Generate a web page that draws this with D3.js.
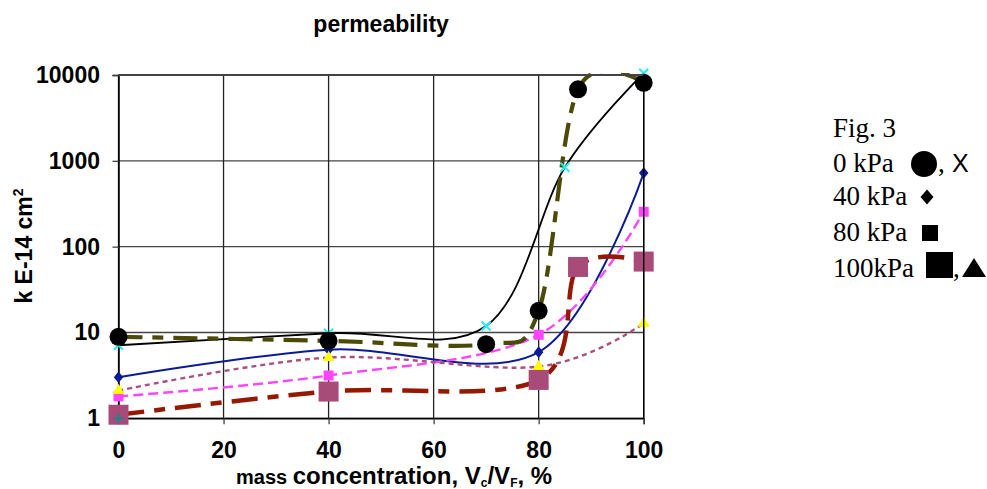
<!DOCTYPE html>
<html>
<head>
<meta charset="utf-8">
<script src="https://cdn.jsdelivr.net/npm/d3@7"></script>
<style>
  body { margin: 0; background: #fff; }
  svg { display: block; }
</style>
</head>
<body>
<div id="chart"></div>
<script>
// valores (k em E-14 cm2)
const xTicks = [0, 20, 40, 60, 80, 100];
const yTicks = [1, 10, 100, 1000, 10000];

// 0 kPa - círculos (linha tracejada oliva)
const xCircle = [0, 40, 70, 80, 87.5, 100];
const kCircle = [8.9, 8.0, 7.3, 17.9, 6800, 8100];
// 0 kPa - X (linha preta)
const xCross = [0, 40, 70, 85, 100];
const kCross = [7.1, 9.8, 11.9, 840, 10500];
// 40 kPa - losangos
const x40 = [0, 40, 80, 100];
const k40 = [3.0, 6.3, 5.9, 720];
// 80 kPa - quadrados pequenos
const x80 = [0, 40, 80, 100];
const k80 = [1.8, 3.15, 9.4, 255];
// 100 kPa - quadrados grandes
const xBig = [0, 40, 80, 87.5, 100];
const kBig = [1.1, 2.05, 2.8, 58, 67];
// 100 kPa - triângulos (linha pontilhada)
const xTri = [0, 40, 80, 100];
const kTri = [2.1, 5.1, 4.0, 12.8];
// ponto extra (+)
const xPlus = [0];
const kPlus = [1.0];

const W = 987, H = 489;
const margin = { top: 75, right: 343.3, bottom: 70.7, left: 118.5 };
const width = W - margin.left - margin.right;
const height = H - margin.top - margin.bottom;

const svg = d3.select("#chart").append("svg")
    .attr("width", W)
    .attr("height", H);

const g = svg.append("g")
    .attr("transform", `translate(${margin.left},${margin.top})`);

const x = d3.scaleLinear().domain([0, 100]).range([0, width]);
const y = d3.scaleLog().domain([1, 10000]).range([height, 0]);

// grade
g.append("g").selectAll("line.h")
    .data(yTicks)
    .enter().append("line")
    .attr("x1", 0).attr("x2", width)
    .attr("y1", d => y(d)).attr("y2", d => y(d))
    .attr("stroke", "#444").attr("stroke-width", 1.4);

g.append("g").selectAll("line.v")
    .data(xTicks)
    .enter().append("line")
    .attr("x1", d => x(d)).attr("x2", d => x(d))
    .attr("y1", 0).attr("y2", height)
    .attr("stroke", "#222").attr("stroke-width", 1.3);

// eixos
const yAxis = g.append("g")
    .call(d3.axisLeft(y).tickValues(yTicks).tickFormat(d3.format("d")).tickSize(6).tickPadding(12.5));
const xAxis = g.append("g")
    .attr("transform", `translate(0,${height})`)
    .call(d3.axisBottom(x).tickValues(xTicks).tickSize(6).tickPadding(17.5));

[xAxis, yAxis].forEach(a => {
    a.select(".domain").attr("stroke", "#000").attr("stroke-width", 1.5);
    a.selectAll(".tick line").attr("stroke", "#444").attr("stroke-width", 1.3);
    a.selectAll("text")
        .attr("fill", "#000")
        .style("font-family", "'Liberation Sans', Arial, sans-serif")
        .style("font-weight", "bold")
        .style("font-size", "23px");
});

// clip das linhas
svg.append("defs").append("clipPath").attr("id", "plot-clip")
    .append("rect").attr("x", 0).attr("y", -2).attr("width", width).attr("height", height + 2);

const line = d3.line()
    .x(d => x(d.x))
    .y(d => y(d.k))
    .curve(d3.curveCardinal.tension(0));

const pts = (xs, ks) => xs.map((v, i) => ({ x: v, k: ks[i] }));

const lines = g.append("g").attr("clip-path", "url(#plot-clip)");
const marks = g.append("g");

function drawLine(data, color, w, dash) {
    lines.append("path")
        .datum(data)
        .attr("d", line)
        .attr("fill", "none")
        .attr("stroke", color)
        .attr("stroke-width", w)
        .attr("stroke-dasharray", dash || null);
}

function drawMarks(data, type, size, fill) {
    marks.append("g").selectAll("path")
        .data(data)
        .enter().append("path")
        .attr("transform", d => `translate(${x(d.x)},${y(d.k)})`)
        .attr("d", d3.symbol().type(type).size(size))
        .attr("fill", fill);
}

// losango um pouco mais alto que largo
const diamond = {
    draw(ctx, size) {
        const r = Math.sqrt(size) / 2;
        ctx.moveTo(0, -r * 1.1);
        ctx.lineTo(r * 0.9, 0);
        ctx.lineTo(0, r * 1.1);
        ctx.lineTo(-r * 0.9, 0);
        ctx.closePath();
    }
};

const dCircle = pts(xCircle, kCircle);
const dCross = pts(xCross, kCross);
const d40 = pts(x40, k40);
const d80 = pts(x80, k80);
const dBig = pts(xBig, kBig);
const dTri = pts(xTri, kTri);
const dPlus = pts(xPlus, kPlus);

drawLine(d40, "#0b1a96", 2);
drawLine(d80, "#ff44ff", 2.4, "10,5");
drawLine(dTri, "#a8507e", 2.4, "5,4");
drawLine(dBig, "#951800", 4.5, "26,10,11,10");
drawLine(dCross, "#000", 1.8);
drawLine(dCircle, "#4b4a08", 4.2, "24,10,11,10");

drawMarks(d40, diamond, 110, "#0b1a96");
drawMarks(d80, d3.symbolSquare, 100, "#ff44ff");
drawMarks(dTri, d3.symbolTriangle, 60, "#ffff00");
drawMarks(dBig, d3.symbolSquare, 400, "#a84b78");
marks.append("g").selectAll("path")
    .data(dPlus)
    .enter().append("path")
    .attr("transform", d => `translate(${x(d.x)},${y(d.k)})`)
    .attr("d", "M-5,0H5M0,-5V5")
    .attr("stroke", "#0a8a8a").attr("stroke-width", 1.8);
marks.append("g").selectAll("path")
    .data(dCross)
    .enter().append("path")
    .attr("transform", d => `translate(${x(d.x)},${y(d.k)})`)
    .attr("d", "M-4.5,-4.5L4.5,4.5M-4.5,4.5L4.5,-4.5")
    .attr("stroke", "#22eeee").attr("stroke-width", 2);
drawMarks(dCircle, d3.symbolCircle, Math.PI * 81, "#000");

// moldura superior e direita
g.append("line").attr("x1", 0).attr("x2", width).attr("y1", 0).attr("y2", 0)
    .attr("stroke", "#444").attr("stroke-width", 2);
g.append("line").attr("x1", width).attr("x2", width).attr("y1", 0).attr("y2", height)
    .attr("stroke", "#000").attr("stroke-width", 1.4);

// títulos
const sans = "'Liberation Sans', Arial, sans-serif";
svg.append("text")
    .attr("x", margin.left + width / 2)
    .attr("y", 32)
    .attr("text-anchor", "middle")
    .style("font-family", sans).style("font-weight", "bold").style("font-size", "23px")
    .text("permeability");

const yt = svg.append("text")
    .attr("transform", `translate(32,246) rotate(-90)`)
    .attr("text-anchor", "middle")
    .style("font-family", sans).style("font-weight", "bold").style("font-size", "23px");
yt.append("tspan").text("k E-14 cm");
yt.append("tspan").attr("dy", -9).style("font-size", "14px").text("2");

const xt = svg.append("text")
    .attr("x", 236)
    .attr("y", 484)
    .style("font-family", sans).style("font-weight", "bold");
xt.append("tspan").style("font-size", "20px").text("mass ");
xt.append("tspan").style("font-size", "24px").text("concentration, V");
xt.append("tspan").attr("dy", 2.5).style("font-size", "12px").text("c");
xt.append("tspan").attr("dy", -2.5).style("font-size", "24px").text("/V");
xt.append("tspan").attr("dy", 2.5).style("font-size", "12px").text("F");
xt.append("tspan").attr("dy", -2.5).style("font-size", "24px").text(", %");

// legenda
const serif = "'Liberation Serif', 'Times New Roman', serif";
const legend = svg.append("g").attr("transform", "translate(833,0)");
const legendRows = ["Fig. 3", "0 kPa", "40 kPa", "80 kPa", "100kPa"];
const legendY = [137, 172, 205, 241, 277];
legend.selectAll("text.row")
    .data(legendRows)
    .enter().append("text")
    .attr("x", 0)
    .attr("y", (d, i) => legendY[i])
    .style("font-family", serif).style("font-size", "27px")
    .text(d => d);

legend.append("circle").attr("cx", 91).attr("cy", 164).attr("r", 13).attr("fill", "#000");
legend.append("text").attr("x", 105).attr("y", 172)
    .style("font-family", serif).style("font-size", "27px").text(",");
legend.append("text").attr("x", 119).attr("y", 172)
    .style("font-family", sans).style("font-size", "25px").text("X");
legend.append("path").attr("transform", "translate(94,197)")
    .attr("d", "M0,-7.5L6.5,0L0,7.5L-6.5,0Z").attr("fill", "#000");
legend.append("rect").attr("x", 89).attr("y", 225).attr("width", 16).attr("height", 16).attr("fill", "#000");
legend.append("rect").attr("x", 93).attr("y", 252).attr("width", 27).attr("height", 26).attr("fill", "#000");
legend.append("text").attr("x", 120).attr("y", 277)
    .style("font-family", serif).style("font-size", "27px").text(",");
legend.append("path").attr("transform", "translate(141,258)")
    .attr("d", "M0,0L12,19L-12,19Z").attr("fill", "#000");
</script>
</body>
</html>
